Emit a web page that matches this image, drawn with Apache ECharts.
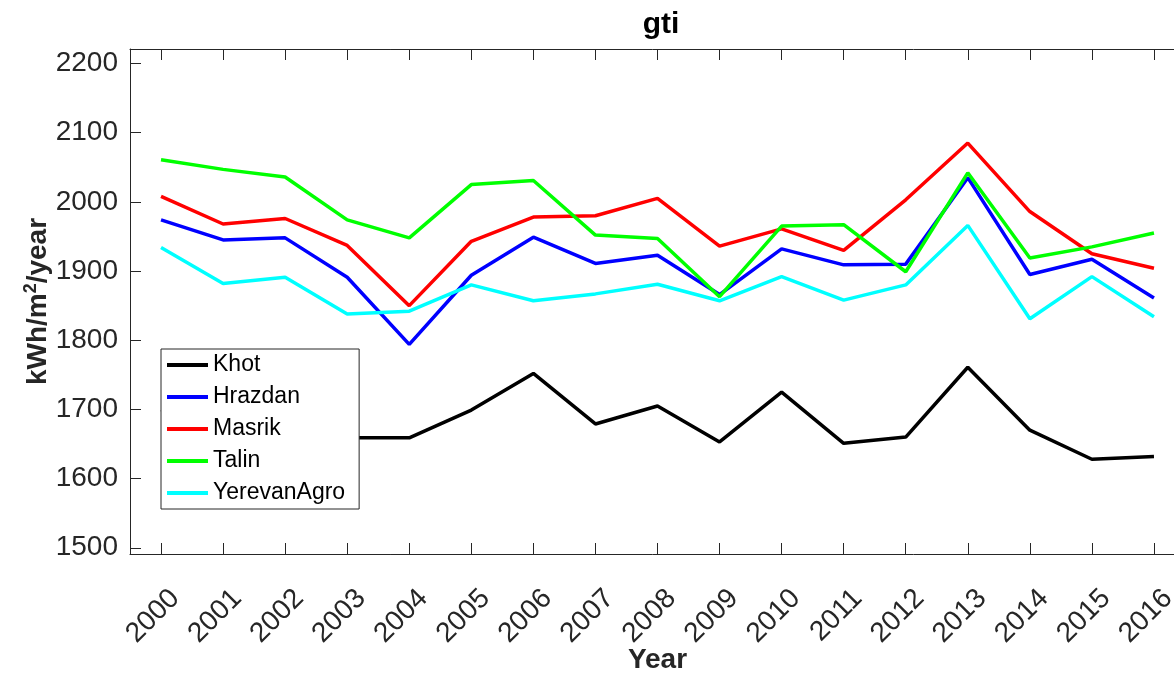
<!DOCTYPE html>
<html>
<head>
<meta charset="utf-8">
<script src="https://cdn.jsdelivr.net/npm/echarts@6/dist/echarts.min.js"></script>
<style>
html,body{margin:0;padding:0;background:#fff;}
#chart{width:1174px;height:673px;}
</style>
</head>
<body>
<div id="chart"></div>
<script>
const years = ['2000','2001','2002','2003','2004','2005','2006','2007','2008','2009','2010','2011','2012','2013','2014','2015','2016'];
const khot        = [1700,1680,1690,1659,1659,1699,1752,1679,1705,1653,1725,1651,1660,1761,1670,1628,1632];
const hrazdan     = [1974,1945,1948,1891,1794,1894,1949,1911,1923,1866,1932,1909,1910,2035,1895,1917,1861];
const masrik      = [2008,1968,1976,1937,1850,1943,1978,1980,2005,1936,1961,1930,2003,2085,1986,1925,1904];
const talin       = [2061,2047,2036,1974,1948,2025,2031,1952,1947,1863,1965,1967,1899,2042,1919,1935,1955];
const yerevanAgro = [1934,1882,1891,1838,1842,1880,1857,1867,1881,1857,1892,1858,1880,1966,1831,1892,1834];
const yTicks = [1500,1600,1700,1800,1900,2000,2100,2200];

const FONT = "'Liberation Sans', Arial, Helvetica, sans-serif";
const AX = '#262626';

const names = ['Khot','Hrazdan','Masrik','Talin','YerevanAgro'];
const datas = [khot, hrazdan, masrik, talin, yerevanAgro];
const colors = ['#000000','#0000ff','#ff0000','#00ff00','#00ffff'];

const chart = echarts.init(document.getElementById('chart'), null, {renderer:'canvas'});
chart.setOption({
  animation: false,
  backgroundColor: '#ffffff',
  title: {
    text: 'gti', left: 656, top: 5, textAlign: 'center',
    textStyle: {fontFamily: FONT, fontSize: 30, fontWeight: 'bold', color: '#000'}
  },
  legend: {
    orient: 'vertical', left: 161, top: 349,
    padding: [4, 14, 4, 6], itemGap: 8,
    itemWidth: 41, itemHeight: 4, icon: 'rect',
    backgroundColor: '#ffffff', borderColor: AX, borderWidth: 1,
    textStyle: {fontFamily: FONT, fontSize: 23, color: '#000', lineHeight: 24},
    data: names
  },
  grid: {left: 130, top: 49, right: -11, bottom: 119, containLabel: false, outerBoundsMode: 'none'},
  xAxis: [{
    type: 'category', data: years, boundaryGap: true, position: 'bottom',
    axisLine: {show: true, lineStyle: {color: AX, width: 1}},
    axisTick: {show: true, inside: true, length: 11, alignWithLabel: true, lineStyle: {color: AX}},
    axisLabel: {rotate: 45, margin: 26, fontFamily: FONT, fontSize: 28, color: AX,
      align: 'right', verticalAlign: 'top', lineHeight: 40, interval: 0},
    splitLine: {show: false},
    name: 'Year', nameLocation: 'middle', nameGap: 92, nameMoveOverlap: false,
    nameTextStyle: {fontFamily: FONT, fontSize: 28, fontWeight: 'bold', color: AX}
  }, {
    type: 'category', data: years, boundaryGap: true, position: 'top',
    axisLine: {show: true, lineStyle: {color: AX, width: 1}},
    axisTick: {show: true, inside: true, length: 11, alignWithLabel: true, lineStyle: {color: AX}},
    axisLabel: {show: false}, splitLine: {show: false}
  }],
  yAxis: [{
    type: 'value', min: 1491, max: 2221, position: 'left',
    axisLine: {show: true, lineStyle: {color: AX, width: 1}},
    axisTick: {show: true, inside: true, length: 11, customValues: yTicks, lineStyle: {color: AX}},
    axisLabel: {customValues: yTicks, margin: 12, fontFamily: FONT, fontSize: 28, color: AX,
      formatter: v => String(v)},
    splitLine: {show: false},
    name: 'kWh/m{sup|2}/year', nameLocation: 'middle', nameGap: 76, nameRotate: 90, nameMoveOverlap: false,
    nameTextStyle: {fontFamily: FONT, fontSize: 28, fontWeight: 'bold', color: AX,
      rich: {sup: {fontFamily: FONT, fontSize: 18, fontWeight: 'bold', color: AX, padding: [0,0,14,0]}}}
  }],
  series: names.map((n, i) => ({
    name: n, type: 'line', data: datas[i], symbol: 'none',
    lineStyle: {color: colors[i], width: 3.5}, itemStyle: {color: colors[i]},
    xAxisIndex: 0, yAxisIndex: 0
  }))
});
</script>
</body>
</html>
